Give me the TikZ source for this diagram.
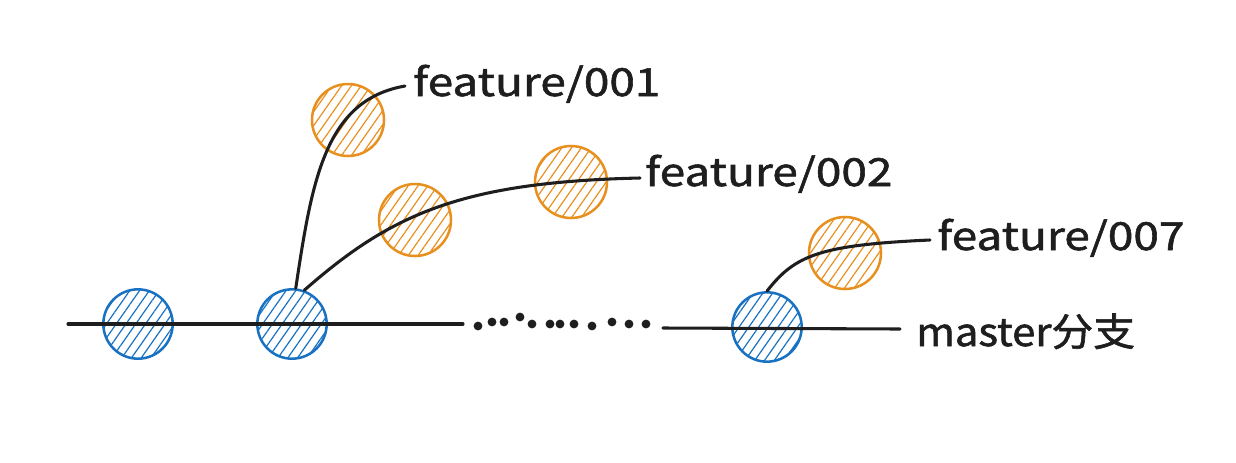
\documentclass[tikz,border=0pt]{standalone}
\usepackage{fontspec}
\newfontfamily\lblfont[FakeStretch=1.19,FakeBold=1.5]{Noto Sans CJK SC}
\newfontfamily\mlblfont[FakeStretch=1.08,FakeBold=1.5]{Noto Sans CJK SC}
\usetikzlibrary{patterns.meta}
\definecolor{ink}{HTML}{1E1E1E}
\definecolor{cblue}{HTML}{1971C2}
\definecolor{corange}{HTML}{E8901F}
\tikzset{
  commit/.style={circle, inner sep=0pt, minimum size=#1, line width=1.9pt},
  bcommit/.style={commit=52pt, draw=cblue, pattern={Lines[angle=55,distance=6pt,line width=0.9pt]}, pattern color=cblue},
  ocommit/.style={commit=54pt, draw=corange, pattern={Lines[angle=55,distance=6pt,line width=0.9pt]}, pattern color=corange},
  branch/.style={draw=ink, line width=2.3pt, line cap=round},
  lbl/.style={anchor=base west, inner sep=0pt, text=ink, font=\lblfont\fontsize{29}{31}\selectfont},
  mlbl/.style={lbl, font=\mlblfont\fontsize{29}{31}\selectfont},
  dotmark/.style={fill=ink, draw=none}
}
\begin{document}
\begin{tikzpicture}[x=0.75pt,y=-0.75pt]
\useasboundingbox (0,0) rectangle (1236,462);
% commits
\node[bcommit] (b1) at (138,324) {};
\node[bcommit] (b2) at (292,324) {};
\node[bcommit] (b3) at (767,327) {};
\node[ocommit] (o1) at (348,120) {};
\node[ocommit] (o2) at (415,220) {};
\node[ocommit] (o3) at (571,182) {};
\node[ocommit] (o4) at (845,253) {};
% labels
\node[lbl] (l1) at (413,96) {feature/001};
\node[lbl] (l2) at (645,186) {feature/002};
\node[lbl] (l7) at (937,250) {feature/007};
\node[mlbl] (lm) at (916,346) {master分支};
% free ends
\coordinate (m0) at (68,324);
\coordinate (m1) at (463,324);
\coordinate (m2) at (663,328);
\coordinate (m3) at (900,329);
\coordinate (e1) at (405,86);
\coordinate (e2) at (640,178);
\coordinate (e7) at (930,240);
% branches
\draw[branch] (m0) -- (m1);
\draw[branch] (m2) -- (m3);
\draw[branch] (b2.84) .. controls (312,180) and (325,100) .. (e1);
\draw[branch] (b2.70) .. controls (390,215) and (460,182) .. (e2);
\draw[branch] (b3.north) .. controls (795,255) and (820,245) .. (e7);
% dots
\foreach \x/\y in {478/326,492/322,504/322,520/317,532/324,550/324,560/324,574/324,592/326,612/322,629/324,646/324}
  \fill[dotmark] (\x,\y) circle (3.3pt);
\end{tikzpicture}
\end{document}
